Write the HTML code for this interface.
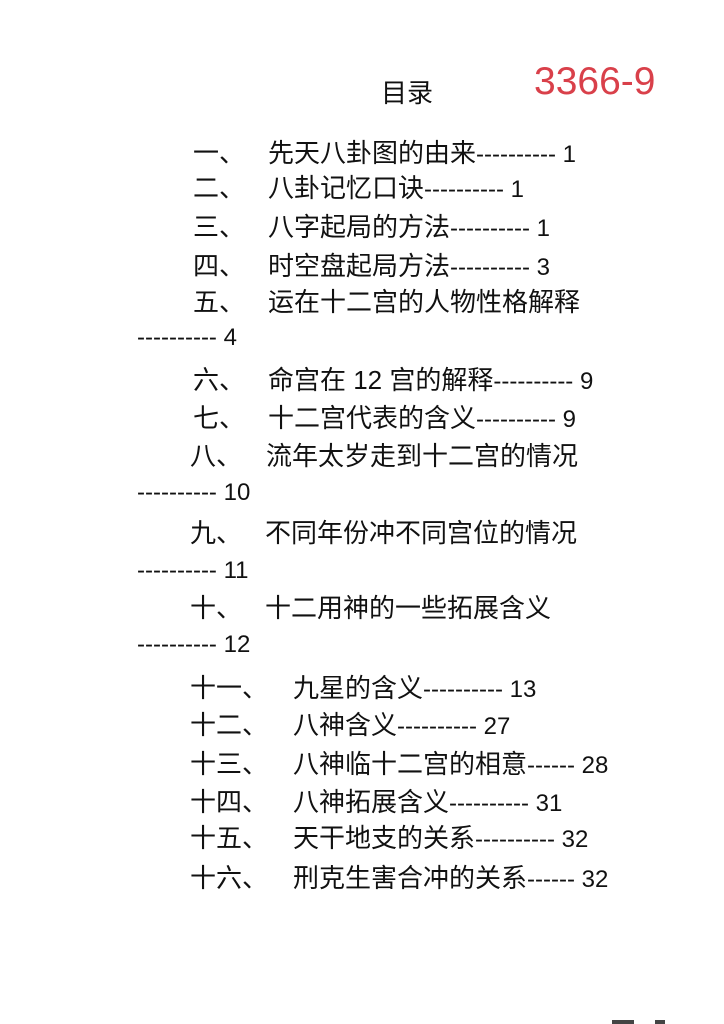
<!DOCTYPE html>
<html><head><meta charset="utf-8"><style>
body{margin:0;width:724px;height:1024px;background:#fff;position:relative;overflow:hidden;font-family:"Liberation Sans","Noto Sans CJK SC",sans-serif;color:#111}
.a{position:absolute;white-space:pre;line-height:30px;font-size:26px}
.d{font-size:24px}
</style></head><body>
<div class="a" style="left:381px;top:78px;font-size:26px">目录</div>
<div class="a" style="left:534px;top:62px;font-size:39px;line-height:40px;color:#d9404a">3366-9</div>

<div class="a" style="left:193px;top:138px">一、</div><div class="a" style="left:268px;top:138px">先天八卦图的由来<span class="d">---------- 1</span></div>
<div class="a" style="left:193px;top:173px">二、</div><div class="a" style="left:268px;top:173px">八卦记忆口诀<span class="d">---------- 1</span></div>
<div class="a" style="left:193px;top:212px">三、</div><div class="a" style="left:268px;top:212px">八字起局的方法<span class="d">---------- 1</span></div>
<div class="a" style="left:193px;top:251px">四、</div><div class="a" style="left:268px;top:251px">时空盘起局方法<span class="d">---------- 3</span></div>
<div class="a" style="left:193px;top:287px">五、</div><div class="a" style="left:268px;top:287px">运在十二宫的人物性格解释</div>
<div class="a d" style="left:137px;top:323px">---------- 4</div>

<div class="a" style="left:193px;top:365px">六、</div><div class="a" style="left:268px;top:365px">命宫在 12 宫的解释<span class="d">---------- 9</span></div>
<div class="a" style="left:193px;top:403px">七、</div><div class="a" style="left:268px;top:403px">十二宫代表的含义<span class="d">---------- 9</span></div>
<div class="a" style="left:190px;top:441px">八、</div><div class="a" style="left:266px;top:441px">流年太岁走到十二宫的情况</div>
<div class="a d" style="left:137px;top:478px">---------- 10</div>
<div class="a" style="left:190px;top:518px">九、</div><div class="a" style="left:265px;top:518px">不同年份冲不同宫位的情况</div>
<div class="a d" style="left:137px;top:556px">---------- 11</div>
<div class="a" style="left:190px;top:593px">十、</div><div class="a" style="left:265px;top:593px">十二用神的一些拓展含义</div>
<div class="a d" style="left:137px;top:630px">---------- 12</div>

<div class="a" style="left:190px;top:673px">十一、</div><div class="a" style="left:293px;top:673px">九星的含义<span class="d">---------- 13</span></div>
<div class="a" style="left:190px;top:710px">十二、</div><div class="a" style="left:293px;top:710px">八神含义<span class="d">---------- 27</span></div>
<div class="a" style="left:190px;top:749px">十三、</div><div class="a" style="left:293px;top:749px">八神临十二宫的相意<span class="d">------ 28</span></div>
<div class="a" style="left:190px;top:787px">十四、</div><div class="a" style="left:293px;top:787px">八神拓展含义<span class="d">---------- 31</span></div>
<div class="a" style="left:190px;top:823px">十五、</div><div class="a" style="left:293px;top:823px">天干地支的关系<span class="d">---------- 32</span></div>
<div class="a" style="left:190px;top:863px">十六、</div><div class="a" style="left:293px;top:863px">刑克生害合冲的关系<span class="d">------ 32</span></div>

<div style="position:absolute;left:612px;top:1020px;width:22px;height:4px;background:#444"></div>
<div style="position:absolute;left:655px;top:1020px;width:10px;height:4px;background:#444"></div>
</body></html>
